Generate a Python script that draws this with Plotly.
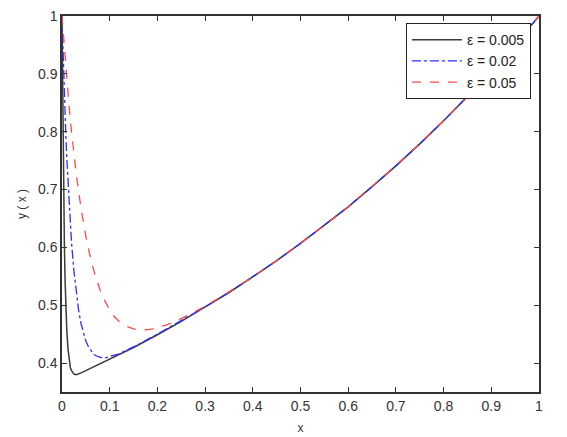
import plotly.graph_objects as go

# Values
x_eps005 = [0, 0.001, 0.002, 0.003, 0.004, 0.005, 0.0065, 0.008, 0.01, 0.0125, 0.015, 0.0175, 0.02,
            0.025, 0.03, 0.035, 0.04, 0.05, 0.06, 0.08, 0.1, 0.12, 0.15, 0.2, 0.25, 0.3, 0.35, 0.4,
            0.45, 0.5, 0.55, 0.6, 0.65, 0.7, 0.75, 0.8, 0.85, 0.9, 0.95, 1.0]
y_eps005 = [1.0, 0.885, 0.793, 0.718, 0.656, 0.604, 0.542, 0.500, 0.457, 0.425, 0.404, 0.392, 0.387,
            0.381, 0.380, 0.381, 0.383, 0.387, 0.391, 0.399, 0.407, 0.415, 0.427, 0.449, 0.472, 0.497,
            0.522, 0.549, 0.577, 0.607, 0.638, 0.670, 0.705, 0.741, 0.779, 0.819, 0.861, 0.905, 0.951, 1.0]

x_eps02 = [0, 0.0025, 0.005, 0.0075, 0.01, 0.015, 0.02, 0.025, 0.03, 0.035, 0.04, 0.045, 0.05, 0.055,
           0.06, 0.065, 0.07, 0.075, 0.08, 0.09, 0.1, 0.11, 0.12, 0.14, 0.16, 0.2, 0.25, 0.3, 0.35, 0.4,
           0.45, 0.5, 0.55, 0.6, 0.65, 0.7, 0.75, 0.8, 0.85, 0.9, 0.95, 1.0]
y_eps02 = [1.0, 0.927, 0.864, 0.806, 0.755, 0.672, 0.608, 0.559, 0.520, 0.490, 0.468, 0.451, 0.438,
           0.429, 0.422, 0.417, 0.413, 0.411, 0.410, 0.409, 0.411, 0.413, 0.416, 0.424, 0.432, 0.450,
           0.473, 0.497, 0.522, 0.549, 0.577, 0.607, 0.638, 0.670, 0.705, 0.741, 0.779, 0.819, 0.861,
           0.905, 0.951, 1.0]

x_eps05 = [0, 0.005, 0.01, 0.015, 0.02, 0.03, 0.04, 0.05, 0.06, 0.07, 0.08, 0.09, 0.1, 0.11, 0.12,
           0.13, 0.14, 0.15, 0.16, 0.17, 0.18, 0.19, 0.2, 0.22, 0.25, 0.28, 0.3, 0.35, 0.4, 0.45, 0.5,
           0.55, 0.6, 0.65, 0.7, 0.75, 0.8, 0.85, 0.9, 0.95, 1.0]
y_eps05 = [1.0, 0.941, 0.889, 0.842, 0.799, 0.726, 0.667, 0.619, 0.581, 0.550, 0.526, 0.507, 0.492,
           0.480, 0.472, 0.466, 0.462, 0.459, 0.4575, 0.457, 0.4577, 0.459, 0.461, 0.466, 0.477, 0.489,
           0.498, 0.523, 0.549, 0.577, 0.607, 0.638, 0.670, 0.705, 0.741, 0.779, 0.819, 0.861, 0.905,
           0.951, 1.0]

labels = ["ε = 0.005", "ε = 0.02", "ε = 0.05"]
x_ticks = [0, 0.1, 0.2, 0.3, 0.4, 0.5, 0.6, 0.7, 0.8, 0.9, 1]
x_tick_text = ["0", "0.1", "0.2", "0.3", "0.4", "0.5", "0.6", "0.7", "0.8", "0.9", "1"]
y_ticks = [0.4, 0.5, 0.6, 0.7, 0.8, 0.9, 1]
y_tick_text = ["0.4", "0.5", "0.6", "0.7", "0.8", "0.9", "1"]

fig = go.Figure()
fig.add_trace(go.Scatter(x=x_eps005, y=y_eps005, mode="lines", name=labels[0],
                         line=dict(color="#3a3a3a", width=1.5, dash="solid")))
fig.add_trace(go.Scatter(x=x_eps02, y=y_eps02, mode="lines", name=labels[1],
                         line=dict(color="#2f2fff", width=1.3, dash="dashdot")))
fig.add_trace(go.Scatter(x=x_eps05, y=y_eps05, mode="lines", name=labels[2],
                         line=dict(color="#ff4a4a", width=1.3, dash="dash")))

axis_common = dict(showgrid=False, zeroline=False, showline=True, linecolor="#333333", linewidth=1.5,
                   mirror="allticks", ticks="inside", ticklen=5, tickcolor="#333333", tickwidth=1,
                   automargin=False, ticklabeloverflow="allow",
                   tickfont=dict(family="Liberation Sans, Arial", size=14, color="#333333"))

# page body has an 8px margin, so the figure is 8px smaller and its margins are shifted
fig.update_layout(
    width=559, height=429,
    margin=dict(l=54, r=28, t=8, b=45, autoexpand=False),
    paper_bgcolor="white", plot_bgcolor="white",
    font=dict(family="Liberation Sans, Arial", color="#333333"),
    xaxis=dict(range=[0, 1], tickvals=x_ticks, ticktext=x_tick_text,
               title=dict(text="x", font=dict(size=12), standoff=11), **axis_common),
    yaxis=dict(range=[0.35, 1], tickvals=y_ticks, ticktext=y_tick_text,
               title=dict(text="y ( x )", font=dict(size=12), standoff=9), **axis_common),
    legend=dict(x=0.721, y=0.981, xanchor="left", yanchor="top",
                bgcolor="white", bordercolor="#222222", borderwidth=1,
                font=dict(family="Liberation Sans, Arial", size=14, color="#222222"),
                tracegroupgap=0, itemwidth=50),
    showlegend=True,
)

fig.write_html("out.html")
